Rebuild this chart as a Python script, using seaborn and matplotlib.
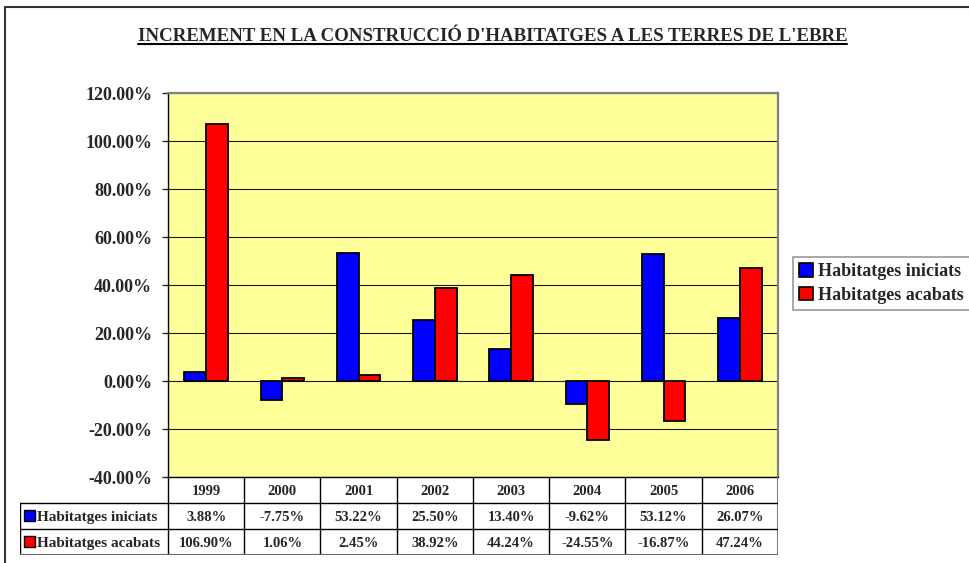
import numpy as np
import pandas as pd
import matplotlib
matplotlib.use("Agg")
import matplotlib.pyplot as plt
from matplotlib.lines import Line2D
from matplotlib.patches import Rectangle
import seaborn as sns

years = ["1999", "2000", "2001", "2002", "2003", "2004", "2005", "2006"]
iniciats = [3.88, -7.75, 53.22, 25.50, 13.40, -9.62, 53.12, 26.07]
acabats = [106.90, 1.06, 2.45, 38.92, 44.24, -24.55, -16.87, 47.24]
series_names = ["Habitatges iniciats", "Habitatges acabats"]
series_colors = ["#0000FF", "#FF0000"]
title = "INCREMENT EN LA CONSTRUCCIÓ D'HABITATGES A LES TERRES DE L'EBRE"

df = pd.DataFrame({
    "any": years * 2,
    "serie": [series_names[0]] * len(years) + [series_names[1]] * len(years),
    "valor": iniciats + acabats,
})

sns.set_style("white")
plt.rcParams["font.family"] = ["Liberation Serif", "DejaVu Serif"]
plt.rcParams["font.weight"] = "bold"

W, H = 970, 563
fig = plt.figure(figsize=(W / 100, H / 100), dpi=100)

def fx(px):
    return px / W

def fy(py):
    return 1 - py / H

# main plot area
px_l, px_r, px_t, px_b = 168, 778, 93, 477
ax = fig.add_axes([fx(px_l), fy(px_b), fx(px_r - px_l), (px_b - px_t) / H])
ax.set_facecolor("#FFFF99")
sns.barplot(data=df, x="any", y="valor", hue="serie", order=years,
            hue_order=series_names, palette=series_colors, width=0.57,
            edgecolor="black", linewidth=1.3, saturation=1, ax=ax)
ax.set_xlim(-0.5, 7.5)
ax.set_ylim(-40, 120)
ax.set_yticks(np.arange(-40, 121, 20))
ax.yaxis.set_major_formatter(matplotlib.ticker.FuncFormatter(lambda v, p: f"{v:.2f}%"))
ax.tick_params(axis="y", direction="out", length=4.3, width=1, pad=7, labelsize=13, left=True)
ax.tick_params(axis="x", bottom=False, labelbottom=False)
for lab in ax.get_yticklabels():
    lab.set_fontweight("bold")
ax.set_xlabel("")
ax.set_ylabel("")
ax.grid(axis="y", color="#1a1a1a", linewidth=0.8)
ax.set_axisbelow(True)
ax.spines["left"].set_color("black")
ax.spines["left"].set_linewidth(1)
ax.spines["top"].set_color("#808080")
ax.spines["top"].set_linewidth(1.6)
ax.spines["right"].set_color("#808080")
ax.spines["right"].set_linewidth(1.6)
ax.spines["bottom"].set_color("black")
ax.spines["bottom"].set_linewidth(1)

handles, labels = ax.get_legend_handles_labels()
ax.legend_.remove()
leg = fig.legend(handles, labels, loc="upper left",
                 bbox_to_anchor=(fx(793), fy(257)), frameon=True, fancybox=False,
                 prop={"size": 13, "weight": "bold"}, handlelength=0.75, handleheight=0.75,
                 handletextpad=0.3, borderpad=0.35, labelspacing=0.35, borderaxespad=0)
leg.get_frame().set_edgecolor("#808080")
leg.get_frame().set_linewidth(1.2)
for h in leg.legend_handles:
    h.set_edgecolor("black")
    h.set_linewidth(1.2)

# data table under the plot
tab_l = 20
units_per_px = 8 / (px_r - px_l)
x_left = -0.5 - (px_l - tab_l) * units_per_px
tab = fig.add_axes([fx(tab_l), fy(555), fx(px_r - tab_l), (555 - 477) / H])
tab.set_xlim(x_left, 7.5)
tab.set_ylim(0, 3)
tab.axis("off")
for k in range(8):
    tab.plot([k - 0.5, k - 0.5], [0, 3], color="black", lw=1)
tab.plot([7.5, 7.5], [0, 3], color="#808080", lw=1.5)
tab.plot([x_left, x_left], [0, 2], color="black", lw=1)
for yv in (1, 2):
    tab.plot([x_left, 7.5], [yv, yv], color="black", lw=1)
tab.plot([x_left, 7.5], [0, 0], color="#666666", lw=1.5)
for i, yr in enumerate(years):
    tab.text(i, 2.45, yr, ha="center", va="center", fontsize=10.5, fontweight="bold")
    tab.text(i, 1.45, f"{iniciats[i]:.2f}%", ha="center", va="center", fontsize=10.5, fontweight="bold")
    tab.text(i, 0.45, f"{acabats[i]:.2f}%", ha="center", va="center", fontsize=10.5, fontweight="bold")
sq = 11 * units_per_px
for row, (name, col) in enumerate(zip(series_names, series_colors)):
    yc = 1.5 - row
    tab.add_patch(Rectangle((x_left + 4 * units_per_px, yc - 0.2), sq, 0.42,
                            facecolor=col, edgecolor="black", lw=1, clip_on=False))
    tab.text(x_left + 17 * units_per_px, yc - 0.05, name, ha="left", va="center",
             fontsize=11, fontweight="bold")

# title with underline
t = fig.text(fx((138 + 847) / 2), fy(41), title, ha="center", va="baseline",
             fontsize=13.6, fontweight="bold")
fig.canvas.draw()
bb = t.get_window_extent().transformed(fig.transFigure.inverted())
fig.add_artist(Line2D([bb.x0, bb.x1], [fy(44), fy(44)], color="black", lw=1.5))

# outer chart border
fig.add_artist(Line2D([fx(5), fx(5), fx(970)], [fy(563), fy(7), fy(7)],
                      color="#333333", lw=1.5))

fig.savefig("out.png", dpi=100)
